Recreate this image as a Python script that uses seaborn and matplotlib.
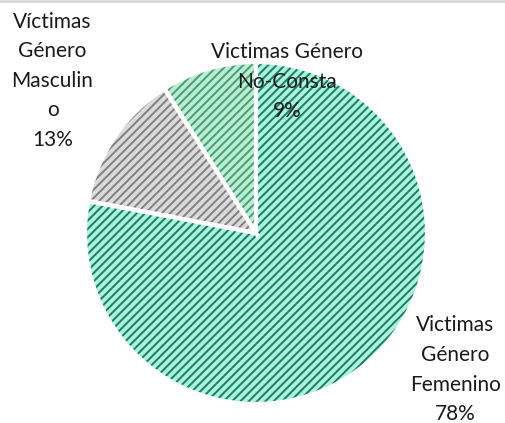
import matplotlib
matplotlib.use("Agg")
import matplotlib.pyplot as plt
import seaborn as sns

# Data
labels = ["Victimas\nGénero\nFemenino", "Víctimas\nGénero\nMasculin\no", "Victimas Género\nNo-Consta"]
values = [78, 13, 9]
face_colors = ["#a9f3de", "#dadada", "#bfead3"]
hatch_colors = ["#1a7c60", "#808080", "#3fa372"]
label_pos = [(1.165, -0.80), (-1.19, 0.89), (0.18, 0.885)]

sns.set_theme(style="white")
plt.rcParams['font.family'] = ['Lato', 'DejaVu Sans']
plt.rcParams['hatch.linewidth'] = 1.4

fig = plt.figure(figsize=(5.06, 4.23), dpi=100)
W, H = 506, 423
cx, cy, r = 256, 233, 171
ax = fig.add_axes([(cx - r) / W, (H - cy - r) / H, 2 * r / W, 2 * r / H])
ax.set_xlim(-1, 1)
ax.set_ylim(-1, 1)
ax.axis("off")

# hatched fill (hatch colour follows edgecolor)
wedges, _ = ax.pie(values, startangle=90, counterclock=False, radius=1,
                   colors=face_colors, wedgeprops=dict(linewidth=0))
for w, hc in zip(wedges, hatch_colors):
    w.set_edgecolor(hc)
    w.set_hatch("////")
    w.set_linewidth(0)

# white separators
ax.pie(values, startangle=90, counterclock=False, radius=1,
       colors=["none"] * 3, wedgeprops=dict(edgecolor="white", linewidth=3))
ax.set_xlim(-1, 1)
ax.set_ylim(-1, 1)

total = sum(values)
for lab, v, (x, y) in zip(labels, values, label_pos):
    ax.text(x, y, f"{lab}\n{round(100 * v / total)}%", ha="center", va="center",
            fontsize=15, color="#1a1a1a", linespacing=1.6, clip_on=False)

# thin frame line at top
fig.add_artist(plt.Line2D([0, 1], [0.997, 0.997], color="#d9d9d9", linewidth=2,
                          transform=fig.transFigure))

fig.savefig("out.png", dpi=100)
